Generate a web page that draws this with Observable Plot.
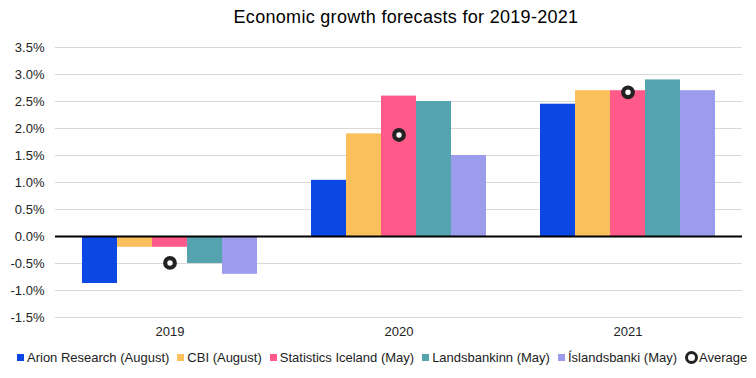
<!DOCTYPE html>
<html>
<head>
<meta charset="utf-8">
<script src="https://cdn.jsdelivr.net/npm/d3@7"></script>
<script src="https://cdn.jsdelivr.net/npm/@observablehq/plot@0.6"></script>
<style>
  body { margin: 0; background: #fff; font-family: "Liberation Sans", Arial, sans-serif; }
  #wrap { width: 756px; height: 378px; overflow: hidden; }
  #title { height: 34px; line-height: 34px; font-size: 18px; letter-spacing: 0.3px; color: #000; text-align: center; padding-left: 56px; box-sizing: border-box; width: 756px; }
  #legend { display: flex; align-items: center; height: 19px; padding-left: 17px; font-size: 13px; color: #222; white-space: nowrap; }
  .item { display: flex; align-items: center; margin-right: 8px; }
  .sw { width: 7px; height: 7px; margin-right: 3px; }
  .ring { width: 7px; height: 7px; border-radius: 50%; border: 3px solid #222; background: #fff; margin-right: 1px; }
</style>
</head>
<body>
<div id="wrap">
  <div id="title">Economic growth forecasts for 2019-2021</div>
  <div id="chart"></div>
  <div id="legend"></div>
</div>
<script>
const years = ["2019", "2020", "2021"];
const seriesNames = ["Arion Research (August)", "CBI (August)", "Statistics Iceland (May)", "Landsbankinn (May)", "Íslandsbanki (May)"];
const seriesColors = ["#0a47e3", "#fbbf5b", "#ff5a8a", "#55a3ae", "#9c9ced"];
const arion = [-0.87, 1.04, 2.45];
const cbi = [-0.2, 1.9, 2.7];
const statisticsIceland = [-0.2, 2.6, 2.7];
const landsbankinn = [-0.5, 2.5, 2.9];
const islandsbanki = [-0.7, 1.5, 2.7];
const average = [-0.49, 1.88, 2.67];
const yTicks = [-1.5, -1, -0.5, 0, 0.5, 1, 1.5, 2, 2.5, 3, 3.5];

const seriesValues = [arion, cbi, statisticsIceland, landsbankinn, islandsbanki];
const bars = [];
seriesNames.forEach((s, i) => years.forEach((y, j) => bars.push({year: y, series: s, value: seriesValues[i][j]})));
const avg = years.map((y, j) => ({year: y, value: average[j]}));

const chart = Plot.plot({
  width: 756,
  height: 314,
  marginLeft: 54,
  marginRight: 14,
  marginTop: 13,
  marginBottom: 31,
  style: {fontFamily: "Liberation Sans, Arial, sans-serif", fontSize: "13px", color: "#222"},
  fx: {domain: years, padding: 0, label: null},
  x: {domain: seriesNames, paddingInner: 0, paddingOuter: 0.77, axis: null},
  y: {domain: [-1.5, 3.5], label: null},
  color: {domain: seriesNames, range: seriesColors},
  marks: [
    Plot.gridY(yTicks, {stroke: "#d9d9d9", strokeOpacity: 1, strokeWidth: 1}),
    Plot.axisY(yTicks, {tickSize: 0, tickPadding: 11, tickFormat: d => d.toFixed(1) + "%", label: null, fill: "#222"}),
    Plot.axisFx({anchor: "bottom", tickSize: 0, tickPadding: 9, label: null, fill: "#222"}),
    Plot.barY(bars, {fx: "year", x: "series", y: "value", fill: "series", insetLeft: 0, insetRight: 0}),
    Plot.ruleY([0], {stroke: "#000", strokeWidth: 2}),
    Plot.dot(avg, {fx: "year", y: "value", r: 4.8, fill: "#fff", stroke: "#222", strokeWidth: 4.2})
  ]
});
document.getElementById("chart").appendChild(chart);

const legend = document.getElementById("legend");
seriesNames.forEach((s, i) => {
  const it = document.createElement("div");
  it.className = "item";
  const sw = document.createElement("div");
  sw.className = "sw";
  sw.style.background = seriesColors[i];
  it.appendChild(sw);
  it.appendChild(document.createTextNode(s));
  legend.appendChild(it);
});
const it = document.createElement("div");
it.className = "item";
const ring = document.createElement("div");
ring.className = "ring";
it.appendChild(ring);
it.appendChild(document.createTextNode("Average"));
legend.appendChild(it);
</script>
</body>
</html>
